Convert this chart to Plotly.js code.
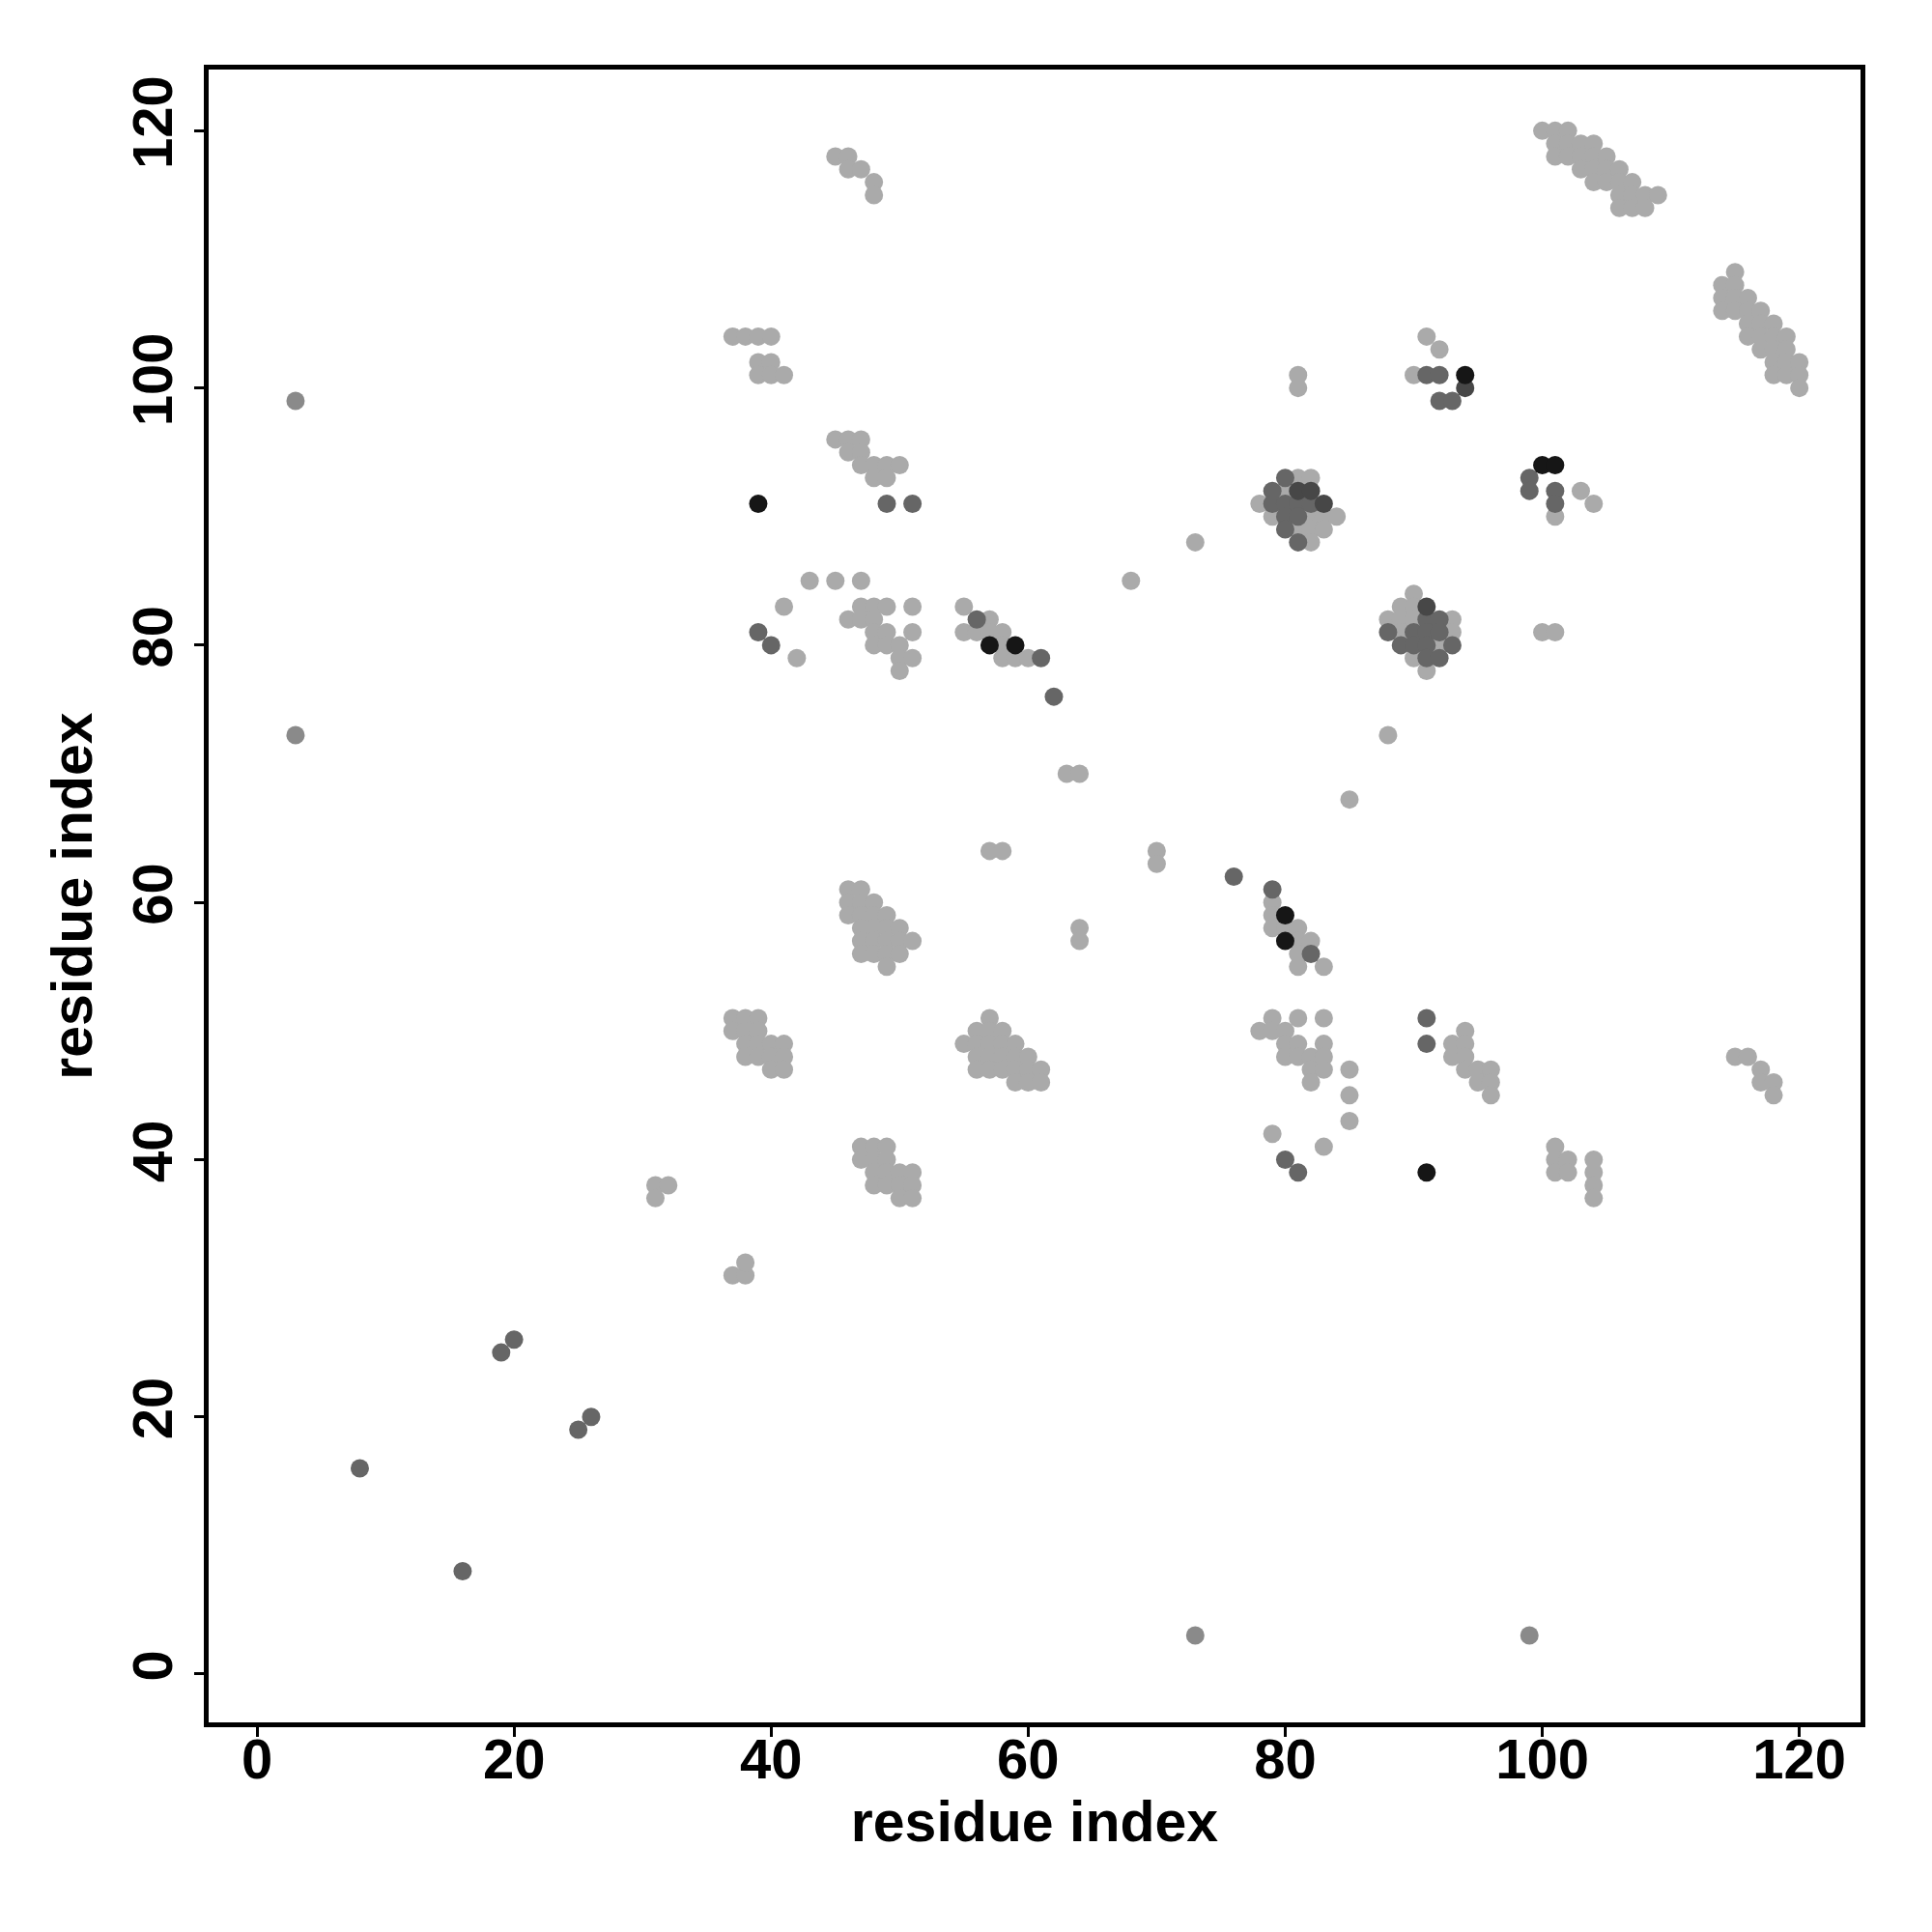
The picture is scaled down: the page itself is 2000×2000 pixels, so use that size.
<!DOCTYPE html>
<html>
<head>
<meta charset="utf-8">
<script src="https://cdn.plot.ly/plotly-3.0.1.min.js"></script>
<style>html,body{margin:0;padding:0;background:#fff;}#plot{width:2000px;height:2000px;}</style>
</head>
<body>
<div id="plot"></div>
<script>
// Contact pairs [residue i, residue j], grouped by grey level
const lightPairs = [
  [100,120],[101,120],[102,120],[101,119],[102,119],[103,119],[104,119],[101,118],[102,118],[103,118],[104,118],[105,118],
  [103,117],[104,117],[105,117],[106,117],[104,116],[105,116],[106,116],[107,116],[106,115],[107,115],[108,115],[109,115],
  [106,114],[107,114],[108,114],
  [115,109],[114,108],[115,108],[114,107],[115,107],[116,107],[114,106],[115,106],[116,106],[117,106],[116,105],[117,105],
  [118,105],[116,104],[117,104],[118,104],[119,104],[117,103],[118,103],[119,103],[118,102],[119,102],[120,102],[118,101],
  [119,101],[120,101],[120,100],
  [45,118],[46,118],[46,117],[47,117],[48,116],[48,115],
  [37,104],[38,104],[39,104],[40,104],[39,102],[40,102],[39,101],[40,101],[41,101],
  [45,96],[46,96],[47,96],[46,95],[47,95],[47,94],[48,94],[49,94],[50,94],[48,93],[49,93],
  [43,85],[45,85],[47,85],[41,83],[47,83],[48,83],[49,83],[51,83],[55,83],[46,82],[47,82],[48,82],[57,82],[48,81],[49,81],
  [51,81],[55,81],[56,81],[57,81],[58,81],[48,80],[49,80],[50,80],[58,80],[42,79],[50,79],[51,79],[58,79],[59,79],[60,79],[50,78],
  [81,93],[82,93],[80,92],[78,91],[79,90],[82,90],[83,90],[84,90],[81,89],[82,89],[83,89],[82,88],
  [90,84],[89,83],[90,83],[88,82],[89,82],[90,82],[93,82],[89,81],[93,81],[92,80],[90,79],[91,78],
  [91,104],[92,103],[90,101],[103,92],[104,91],[101,90],[100,81],[101,81],[81,101],[81,100],
  [73,88],[68,85],[63,70],[64,70],[57,64],[58,64],[70,64],[70,63],[64,58],[64,57],[85,68],[88,73],
  [46,61],[47,61],[46,60],[47,60],[48,60],[46,59],[47,59],[48,59],[49,59],[47,58],[48,58],[49,58],[50,58],[47,57],[48,57],
  [49,57],[50,57],[51,57],[47,56],[48,56],[49,56],[50,56],[49,55],
  [79,60],[79,59],[79,58],[80,58],[81,58],[81,57],[82,57],[81,56],[81,55],[83,55],
  [37,51],[38,51],[39,51],[37,50],[38,50],[39,50],[38,49],[39,49],[40,49],[41,49],[38,48],[39,48],[40,48],[41,48],[40,47],[41,47],
  [57,51],[56,50],[57,50],[58,50],[55,49],[56,49],[57,49],[58,49],[59,49],[56,48],[57,48],[58,48],[59,48],[60,48],[56,47],
  [57,47],[58,47],[59,47],[60,47],[61,47],[59,46],[60,46],[61,46],
  [79,51],[81,51],[83,51],[78,50],[79,50],[80,50],[80,49],[81,49],[83,49],[80,48],[81,48],[82,48],[83,48],[82,47],[83,47],
  [85,47],[82,46],[85,45],[85,43],[79,42],[83,41],
  [94,50],[93,49],[94,49],[93,48],[94,48],[94,47],[95,47],[96,47],[95,46],[96,46],[96,45],
  [115,48],[116,48],[117,47],[117,46],[118,46],[118,45],
  [47,41],[48,41],[49,41],[47,40],[48,40],[49,40],[48,39],[49,39],[50,39],[51,39],[48,38],[49,38],[50,38],[51,38],[50,37],[51,37],
  [101,41],[101,40],[102,40],[101,39],[102,39],[104,40],[104,39],[104,38],[104,37],
  [31,38],[32,38],[31,37],[37,31],[38,31],[38,32]
];
const midPairs = [[3,99],[3,73],[73,3],[99,3]];
const grayPairs = [
  [49,91],[51,91],[56,82],[39,81],[40,80],[61,79],[62,76],
  [80,93],[79,92],[79,91],[80,91],[81,91],[82,91],[80,90],[81,90],[80,89],[81,88],
  [91,82],[92,82],[88,81],[90,81],[91,81],[92,81],[89,80],[90,80],[91,80],[93,80],[91,79],[92,79],
  [91,101],[92,101],[92,99],[93,99],[99,93],[99,92],[101,92],[101,91],
  [76,62],[79,61],[82,56],[80,40],[81,39],[91,51],[91,49],
  [19,25],[20,26],[25,19],[26,20],[8,16],[16,8]
];
const darkPairs = [[81,92],[82,92],[83,91],[91,83],[94,100]];
const blackPairs = [[39,91],[57,80],[59,80],[94,101],[100,94],[101,94],[80,59],[80,57],[91,39]];

const groups = [
  {pairs: lightPairs, color: '#aaaaaa'},
  {pairs: midPairs,   color: '#8a8a8a'},
  {pairs: grayPairs,  color: '#666666'},
  {pairs: darkPairs,  color: '#474747'},
  {pairs: blackPairs, color: '#161616'}
];

const traces = groups.map(g => ({
  type: 'scatter', mode: 'markers',
  x: g.pairs.map(p => p[0]),
  y: g.pairs.map(p => p[1]),
  marker: {size: 19, color: g.color, line: {width: 0}},
  hoverinfo: 'x+y', showlegend: false
}));

const fontFam = '"Liberation Sans", Arial, Helvetica, sans-serif';
const tickVals = [0, 20, 40, 60, 80, 100, 120];

const axisCommon = {
  range: [-3.76, 124.76],
  tickvals: tickVals,
  ticktext: tickVals.map(String),
  ticks: 'outside', ticklen: 10, tickwidth: 3, tickcolor: '#000',
  showline: true, mirror: true, linewidth: 5, linecolor: '#000',
  showgrid: false, zeroline: false,
  tickfont: {family: fontFam, size: 58, color: '#000', weight: 'bold'}
};

const layout = {
  width: 2000, height: 2000,
  margin: {l: 216, r: 74, t: 72, b: 217, pad: 0},
  paper_bgcolor: '#fff', plot_bgcolor: '#fff',
  xaxis: Object.assign({}, axisCommon, {
    ticklabelstandoff: -27,
    title: {text: 'residue index', font: {family: fontFam, size: 59, color: '#000', weight: 'bold'}, standoff: 12}
  }),
  yaxis: Object.assign({}, axisCommon, {
    tickangle: -90,
    title: {text: 'residue index', font: {family: fontFam, size: 59, color: '#000', weight: 'bold'}, standoff: 12}
  })
};

Plotly.newPlot('plot', traces, layout, {displayModeBar: false, staticPlot: true});
</script>
</body>
</html>
